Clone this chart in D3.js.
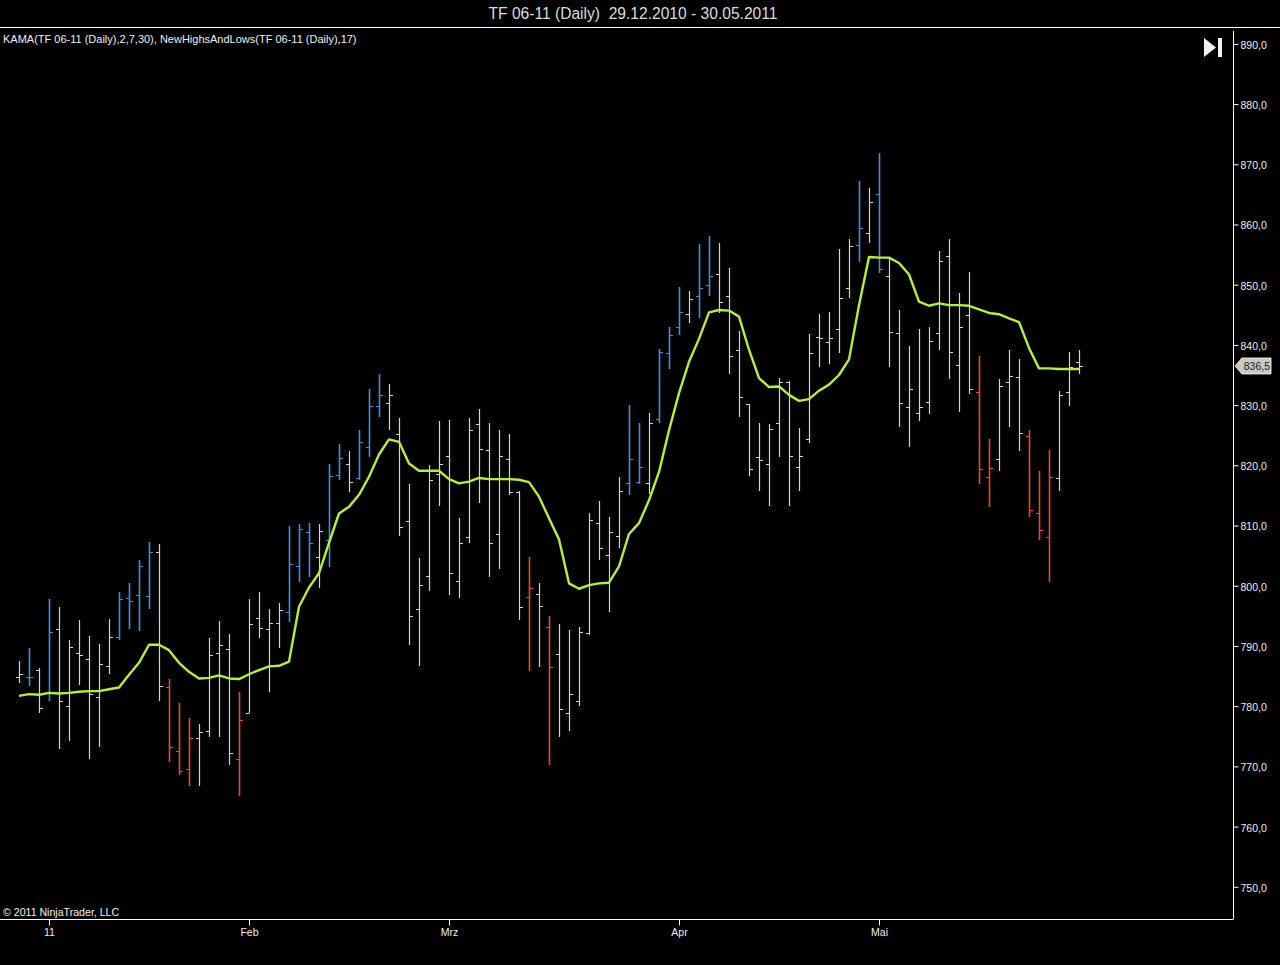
<!DOCTYPE html>
<html><head><meta charset="utf-8">
<script src="https://cdn.jsdelivr.net/npm/d3@7"></script>
<style>
html,body{margin:0;padding:0;background:#000;}
svg{display:block;}
</style></head>
<body>
<svg id="chart" width="1280" height="965"></svg>
<script>
// ---- data (bar index 0 = 29.12.2010 ... 106 = 30.05.2011) ----
const title = "TF 06-11 (Daily)  29.12.2010 - 30.05.2011";
const indicatorLabel = "KAMA(TF 06-11 (Daily),2,7,30), NewHighsAndLows(TF 06-11 (Daily),17)";
const copyright = "\u00a9 2011 NinjaTrader, LLC";

const opens = [784.9,784.9,786.0,782.4,792.8,780.0,788.8,787.8,781.5,786.6,791.5,797.9,798.4,798.3,805.6,783.2,772.6,769.6,774.7,775.9,788.8,789.5,771.2,778.9,794.6,792.8,793.8,795.6,803.2,808.9,804.8,807.6,818.4,820.2,817.9,823.0,829.9,830.3,825.2,810.8,796.1,801.7,818.6,821.6,800.8,808.1,826.8,822.6,808.6,821.1,815.6,798.1,798.6,793.1,788.7,778.9,780.8,792.1,810.5,805.1,808.3,817.0,817.3,817.0,827.7,838.7,843.0,845.2,848.1,850.0,851.8,848.1,839.1,830.2,821.3,820.2,827.0,833.8,819.7,824.3,841.3,840.5,842.6,849.4,856.6,858.6,865.1,851.5,842.0,829.7,828.7,830.6,841.9,854.8,836.6,845.0,832.1,818.0,821.0,833.8,834.6,824.9,812.0,808.1,817.9,832.1,837.1];
const highs = [787.5,789.6,786.3,797.8,796.4,791.0,794.3,791.7,790.4,794.5,798.9,800.5,804.3,807.2,806.9,784.5,780.6,778.0,777.0,791.3,794.2,792.0,782.4,797.8,798.9,796.1,797.1,810.0,810.3,810.5,810.3,820.3,823.6,822.4,825.8,832.7,835.2,833.5,827.8,816.9,804.6,820.1,827.3,827.5,811.3,827.8,829.3,827.1,825.9,825.2,815.7,804.7,800.5,795.0,793.6,792.7,793.1,812.0,814.1,811.4,818.1,830.0,827.1,828.7,839.3,843.0,849.6,849.0,856.8,858.1,856.9,852.8,842.3,830.2,827.0,826.9,834.5,834.0,826.2,841.8,845.1,845.5,855.9,857.6,867.2,866.0,871.8,854.2,845.8,839.8,842.7,843.0,855.6,857.6,848.6,852.1,838.2,824.4,834.4,839.1,837.7,825.9,819.0,822.6,832.4,838.8,839.1];
const lows = [783.9,783.4,778.8,780.9,772.9,774.2,783.5,771.3,773.2,785.3,791.0,792.8,792.5,796.1,780.9,770.7,768.5,766.8,766.8,774.8,774.9,770.2,765.0,778.8,791.3,782.4,789.7,793.9,800.6,801.5,799.6,803.1,817.5,815.6,817.5,821.4,828.0,825.8,808.3,790.2,786.7,799.2,813.3,798.5,797.9,807.1,813.8,801.4,802.8,815.1,794.3,785.9,786.5,770.3,774.9,775.9,780.0,791.8,804.3,795.7,806.3,815.1,816.9,815.2,827.1,836.0,841.6,843.6,844.4,848.1,845.3,835.1,828.1,818.2,815.8,813.3,821.4,813.3,815.8,823.7,836.4,836.8,838.7,847.8,853.7,857.0,852.0,836.4,826.3,823.0,827.3,828.5,839.2,834.4,828.8,831.8,816.9,813.0,819.0,826.4,822.4,811.4,807.6,800.6,815.8,829.9,835.2];
const closes = [785.3,784.8,779.7,792.3,780.9,789.8,788.5,782.1,787.0,791.5,797.8,797.4,803.3,805.6,783.4,773.3,769.3,774.7,775.7,788.5,790.1,772.3,777.7,793.6,792.9,793.8,795.9,803.6,809.4,807.1,809.1,818.2,821.2,817.3,823.8,829.9,831.7,831.7,809.7,795.0,800.1,817.5,820.3,802.1,807.1,825.8,822.7,807.1,821.6,815.5,796.4,799.7,796.6,786.5,779.6,782.0,792.4,810.9,806.2,809.0,815.7,821.1,819.7,827.1,838.8,841.7,845.5,847.6,849.5,851.5,847.1,838.2,831.3,819.4,820.9,826.0,833.8,821.6,821.6,838.7,841.1,841.2,847.8,856.4,859.4,863.8,852.6,842.2,830.3,832.6,829.7,840.7,854.0,838.8,843.0,832.6,819.4,819.5,833.2,834.9,825.3,812.6,809.3,818.1,831.6,836.4,836.5];
// NewHighsAndLows signal: 1 = new high (blue), -1 = new low (red), 0 = none
const signals = [0,1,0,1,0,0,0,0,0,0,1,1,1,1,0,-1,-1,-1,0,0,0,0,-1,0,0,0,0,1,1,1,0,1,1,0,1,1,1,0,0,0,0,0,0,0,0,0,0,0,0,0,0,-1,0,-1,0,0,0,0,0,0,0,1,1,0,1,1,1,0,1,1,0,0,0,0,0,0,0,0,0,0,0,0,0,0,1,0,1,0,0,0,0,0,0,0,0,0,-1,-1,0,0,0,-1,-1,-1,0,0,0];
const kama = [781.7,782.0,781.9,782.2,782.1,782.2,782.4,782.5,782.5,782.8,783.1,785.2,787.2,790.2,790.2,789.3,787.2,785.7,784.6,784.7,785.1,784.6,784.5,785.3,786.0,786.6,786.7,787.4,796.5,799.7,802.1,807.1,812.0,813.1,815.1,818.1,821.8,824.3,823.9,820.3,819.1,819.1,819.1,817.7,817.0,817.3,817.9,817.7,817.7,817.7,817.6,817.2,814.8,811.2,807.7,800.4,799.5,800.1,800.4,800.5,803.2,808.6,810.4,814.2,818.9,825.8,832.0,837.2,841.0,845.4,845.8,845.7,844.7,839.2,834.5,833.0,833.1,831.7,830.7,831.0,832.4,833.4,835.0,837.6,846.6,854.6,854.5,854.5,853.6,851.7,847.2,846.5,846.9,846.6,846.6,846.5,845.9,845.3,845.1,844.4,843.8,839.5,836.1,836.1,836.0,836.0,836.0];
const priceTicks = [750,760,770,780,790,800,810,820,830,840,850,860,870,880,890];
const monthTickIndex = [3,23,43,66,86];
const monthTickLabels = ["11","Feb","Mrz","Apr","Mai"];

// ---- drawing ----
const svg = d3.select("#chart");
const W = 1280, H = 965;
const plot = {left:0, top:27, right:1233, bottom:919};
const font = "Liberation Sans, Arial, sans-serif";
const colors = {bg:"#000", text:"#ededed", axis:"#ffffff", bar:"#d4d4d4", up:"#3f8fe0", down:"#ec4a26", kama:"#b4f03a"};

svg.append("rect").attr("width",W).attr("height",H).attr("fill",colors.bg);

const x = d3.scaleLinear().domain([0, kama.length-1]).range([19, 1079]);
const y = d3.scaleLinear().domain([744.65, 892.8]).range([plot.bottom, plot.top]);

// title
svg.append("text").attr("x",633).attr("y",19).attr("text-anchor","middle")
  .attr("font-family",font).attr("font-size",15.6).style("white-space","pre")
  .attr("fill","#dcdcdc").text(title);

// top frame line
svg.append("line").attr("x1",0).attr("x2",W).attr("y1",plot.top+0.5).attr("y2",plot.top+0.5).attr("stroke","#fff");

// right price axis
const yAxis = d3.axisRight(y).tickValues(priceTicks).tickSize(5).tickPadding(2)
  .tickFormat(d => d3.format(".1f")(d).replace(".", ","));
const gy = svg.append("g").attr("transform",`translate(${plot.right+0.5},0)`).call(yAxis);
gy.select(".domain").attr("stroke",colors.axis).attr("d",`M0,${plot.top+4}V${plot.bottom}`);
gy.selectAll(".tick line").attr("stroke",colors.axis);
gy.selectAll(".tick text").attr("fill",colors.text).attr("font-size",10.5).attr("dy","0.42em")
  .attr("font-family",font);

// bottom date axis
const xAxis = d3.axisBottom(x).tickValues(monthTickIndex).tickSize(6).tickPadding(3)
  .tickFormat((d,i) => monthTickLabels[i]);
const gx = svg.append("g").attr("transform",`translate(0,${plot.bottom+0.5})`).call(xAxis);
gx.select(".domain").attr("stroke",colors.axis).attr("d",`M0,0H${plot.right+0.5}`);
gx.selectAll(".tick line").attr("stroke",colors.axis);
gx.selectAll(".tick text").attr("fill",colors.text).attr("font-size",10.5)
  .attr("font-family",font);

// indicator label & copyright
svg.append("text").attr("x",3).attr("y",43).attr("font-family",font)
  .attr("font-size",11).attr("fill","#f0f0f0").text(indicatorLabel);
svg.append("text").attr("x",3).attr("y",916).attr("font-family",font)
  .attr("font-size",10.6).attr("fill","#f0f0f0").text(copyright);

// play-to-end icon
svg.append("path").attr("d","M1204,38 L1216,47.5 L1204,57 Z").attr("fill","#f2f2f2");
svg.append("rect").attr("x",1218).attr("y",38).attr("width",4).attr("height",19).attr("fill","#f2f2f2");

// OHLC bars
const bars = svg.append("g");
const barColor = s => s > 0 ? colors.up : (s < 0 ? colors.down : colors.bar);
closes.forEach((c,i) => {
  const col = barColor(signals[i]);
  const cx = Math.round(x(i)) + 0.5;
  const oy = Math.round(y(opens[i])) + 0.5, cy = Math.round(y(c)) + 0.5;
  bars.append("line").attr("x1",cx).attr("x2",cx).attr("y1",Math.round(y(highs[i]))).attr("y2",Math.round(y(lows[i])))
    .attr("stroke",col).attr("stroke-width", signals[i] !== 0 ? 1.6 : 1.2);
  bars.append("line").attr("x1",cx-3.5).attr("x2",cx).attr("y1",oy).attr("y2",oy).attr("stroke",col).attr("stroke-width",1);
  bars.append("line").attr("x1",cx).attr("x2",cx+3.5).attr("y1",cy).attr("y2",cy).attr("stroke",col).attr("stroke-width",1);
});

// KAMA line
svg.append("path").datum(kama)
  .attr("d", d3.line().x((d,i)=>x(i)).y(d=>y(d)))
  .attr("fill","none").attr("stroke",colors.kama).attr("stroke-width",2.4).attr("stroke-linejoin","round");

// last price marker
const last = closes[closes.length-1];
const ly = y(last);
svg.append("path")
  .attr("d",`M${plot.right+2},${ly} L${plot.right+9},${ly-8} L${plot.right+38},${ly-8} L${plot.right+38},${ly+8} L${plot.right+9},${ly+8} Z`)
  .attr("fill","#c8c8c0").attr("stroke","#ffffff").attr("stroke-width",0.8);
svg.append("text").attr("x",plot.right+37).attr("y",ly+4).attr("text-anchor","end")
  .attr("font-family",font).attr("font-size",10.5).attr("fill","#222")
  .text(d3.format(".1f")(last).replace(".", ","));
</script>
</body></html>
